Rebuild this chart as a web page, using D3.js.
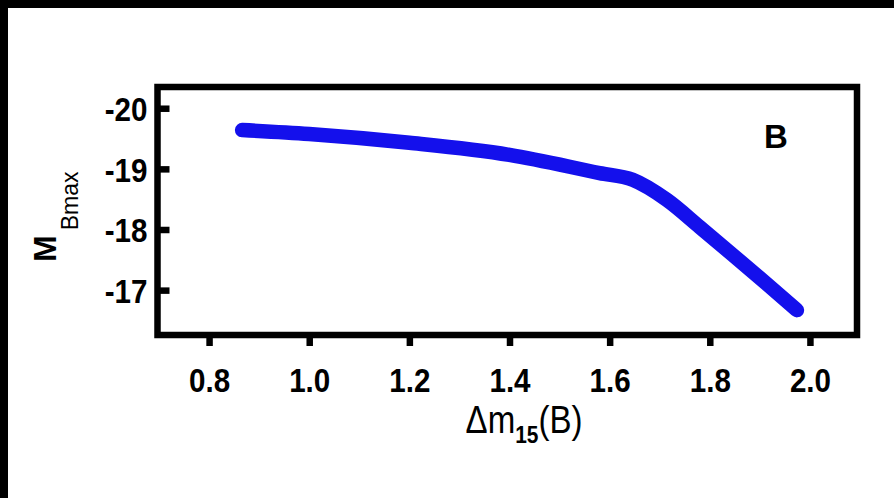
<!DOCTYPE html>
<html>
<head>
<meta charset="utf-8">
<script src="https://cdn.jsdelivr.net/npm/d3@7"></script>
<style>
  html, body { margin: 0; padding: 0; background: #000; }
  svg { display: block; }
</style>
</head>
<body>
<script>
// Decline-rate relation: peak B magnitude vs. Δm15(B)
const dm15 = [0.866, 1.0, 1.2, 1.4, 1.58, 1.646, 1.714, 1.78, 1.846, 1.914, 1.974];
const mBmax = [-19.64, -19.575, -19.43, -19.23, -18.93, -18.82, -18.49, -18.04, -17.58, -17.10, -16.67];
const xTicks = [0.8, 1.0, 1.2, 1.4, 1.6, 1.8, 2.0];
const yTicks = [-20, -19, -18, -17];
const panelLabel = "B";

const W = 894, H = 498;
const svg = d3.select("body").append("svg").attr("width", W).attr("height", H);

// white sheet, offset from the dark edge at top-left
svg.append("rect").attr("x", 8).attr("y", 8).attr("width", W - 8).attr("height", H - 8).attr("fill", "#fff");

const plotL = 157.5, plotR = 857, plotT = 87, plotB = 335;
const x = d3.scaleLinear().domain([0.697, 2.094]).range([plotL, plotR]);
const y = d3.scaleLinear().domain([-16.26, -20.35]).range([plotB, plotT]);

const font = "'Liberation Sans', Arial, sans-serif";
const lw = 6.5;
const squeeze = 0.87;   // condensed look for the lettering

// curve
const line = d3.line().x((d, i) => x(dm15[i])).y(d => y(d)).curve(d3.curveMonotoneX);
svg.append("path")
  .attr("d", line(mBmax))
  .attr("fill", "none")
  .attr("stroke", "#1410ec")
  .attr("stroke-width", 14.5)
  .attr("stroke-linecap", "round")
  .attr("stroke-linejoin", "round");

// frame
svg.append("rect")
  .attr("x", plotL).attr("y", plotT)
  .attr("width", plotR - plotL).attr("height", plotB - plotT)
  .attr("fill", "none").attr("stroke", "#000").attr("stroke-width", lw);

// x axis: ticks hang below the frame
const xAxis = d3.axisBottom(x).tickValues(xTicks).tickFormat(d3.format(".1f")).tickSize(11).tickPadding(22);
const gx = svg.append("g").attr("transform", `translate(0,${plotB})`).call(xAxis);
gx.select(".domain").remove();
gx.selectAll(".tick line").attr("stroke", "#000").attr("stroke-width", lw);
gx.selectAll(".tick text")
  .attr("font-family", font).attr("font-weight", "bold").attr("font-size", 34).attr("fill", "#000")
  .attr("transform", `scale(${squeeze},1)`);

// y axis: ticks point into the frame
const yAxis = d3.axisLeft(y).tickValues(yTicks).tickFormat(d => String(d)).tickSize(-12).tickPadding(10);
const gy = svg.append("g").attr("transform", `translate(${plotL},0)`).call(yAxis);
gy.select(".domain").remove();
gy.selectAll(".tick line").attr("stroke", "#000").attr("stroke-width", lw);
gy.selectAll(".tick text")
  .attr("font-family", font).attr("font-weight", "bold").attr("font-size", 34).attr("fill", "#000")
  .attr("dy", "0.36em")
  .attr("x", -10 / squeeze)
  .attr("transform", `scale(${squeeze},1)`);

// axis titles
const xt = svg.append("g").attr("transform", `translate(524,433) scale(${squeeze},1)`)
  .append("text")
  .attr("text-anchor", "middle")
  .attr("font-family", font).attr("font-size", 38).attr("fill", "#000");
xt.append("tspan").text("Δm");
xt.append("tspan").attr("font-size", 24).attr("font-weight", "bold").attr("dy", 10).text("15");
xt.append("tspan").attr("dy", -10).text("(B)");

const yt = svg.append("g").attr("transform", "translate(56,262) rotate(-90)")
  .append("text")
  .attr("text-anchor", "start")
  .attr("font-family", font).attr("fill", "#000");
yt.append("tspan").attr("font-size", 32).attr("font-weight", "bold").text("M");
yt.append("tspan").attr("font-size", 23).attr("dx", 5).attr("dy", 22).text("Bmax");

// panel letter
svg.append("text")
  .attr("x", 776).attr("y", 148)
  .attr("text-anchor", "middle")
  .attr("font-family", font).attr("font-weight", "bold").attr("font-size", 33).attr("fill", "#000")
  .text(panelLabel);
</script>
</body>
</html>
